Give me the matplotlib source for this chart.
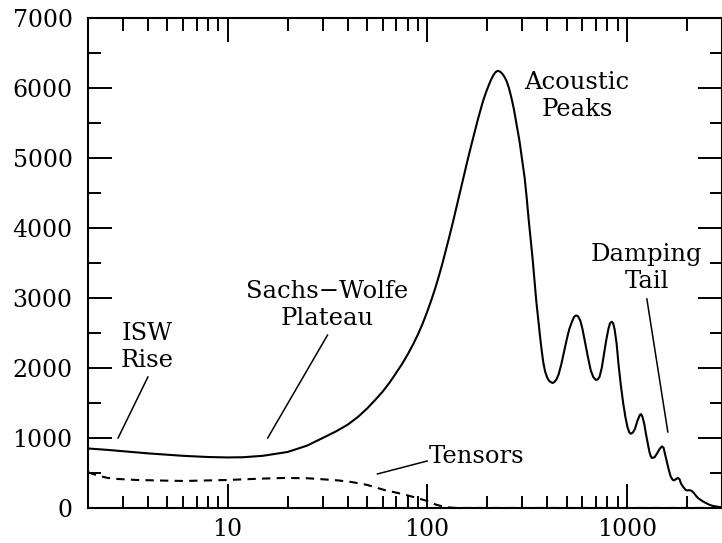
import numpy as np
import matplotlib
matplotlib.use("Agg")
from matplotlib import pyplot as plt
from matplotlib.ticker import LogLocator, MultipleLocator, NullFormatter

# CMB temperature power spectrum
ell = [2, 2.5, 3, 4, 5, 6, 8, 10, 12, 15, 20, 25, 30, 35, 40, 45, 50, 55, 60,
       65, 70, 75, 80, 85, 90, 95, 100, 105, 110, 115, 120, 125, 130, 135, 140,
       145, 150, 155, 160, 170, 180, 190, 198, 205, 210, 215, 220, 225, 230,
       235, 240, 245, 250, 257, 265, 272, 280, 290, 300, 308, 315, 322, 330,
       338, 345, 352, 360, 368, 375, 382, 390, 400, 410, 425, 435, 445, 455,
       470, 485, 500, 515, 530, 545, 557, 570, 585, 600, 620, 640, 660, 680,
       700, 715, 730, 750, 770, 790, 810, 825, 843, 855, 870, 890, 910, 935,
       960, 985, 1010, 1030, 1050, 1075, 1100, 1130, 1164, 1180, 1200, 1225,
       1250, 1275, 1300, 1320, 1337, 1380, 1420, 1460, 1500, 1530, 1560, 1590,
       1620, 1660, 1702, 1730, 1760, 1803, 1840, 1870, 1920, 1977, 2010, 2050,
       2080, 2118, 2170, 2230, 2280, 2350, 2420, 2500, 2600, 2700, 2850, 3000]
power = [850, 830, 810, 780, 760, 745, 728, 722, 725, 745, 800, 890, 1000,
         1095, 1190, 1300, 1420, 1545, 1665, 1795, 1930, 2060, 2195, 2335,
         2480, 2635, 2800, 2970, 3145, 3330, 3520, 3715, 3905, 4095, 4285,
         4470, 4650, 4820, 4985, 5285, 5560, 5800, 5950, 6060, 6130, 6185,
         6225, 6243, 6240, 6220, 6190, 6150, 6100, 6000, 5850, 5700, 5500,
         5250, 4950, 4720, 4450, 4150, 3850, 3550, 3250, 2970, 2700, 2450,
         2250, 2080, 1950, 1860, 1810, 1785, 1800, 1840, 1900, 2050, 2230,
         2400, 2550, 2650, 2730, 2750, 2740, 2680, 2560, 2350, 2150, 1970,
         1870, 1830, 1835, 1870, 2000, 2200, 2400, 2560, 2640, 2660, 2640,
         2550, 2350, 2050, 1750, 1500, 1300, 1150, 1080, 1060, 1080, 1130,
         1240, 1330, 1340, 1300, 1200, 1050, 920, 800, 740, 714, 725, 780,
         840, 880, 860, 760, 660, 560, 450, 400, 395, 410, 430, 410, 350, 300,
         257, 250, 255, 252, 243, 215, 170, 140, 114, 90, 70, 45, 30, 18, 10]

ell_t = [2, 2.2, 2.5, 2.83, 3.5, 5, 6.1, 10, 15, 19.3, 25, 30, 36, 41.8, 50,
         61, 75, 89, 100, 112, 125, 140, 3000]
tensor = [510, 470, 430, 414, 400, 390, 386, 400, 420, 429, 425, 410, 393,
          371, 330, 257, 200, 143, 100, 43, 10, 0, 0]

xticks = [10, 100, 1000]
xlabels = ["10", "100", "1000"]

plt.rcParams['font.family'] = ['DejaVu Serif']

fig = plt.figure(figsize=(7.22, 5.43), dpi=100)
ax = fig.add_axes([0.1219, 0.0645, 0.878, 0.9024])

ax.plot(ell, power, color='black', lw=1.5)
ax.plot(ell_t, tensor, color='black', lw=1.5, dashes=(4, 3))

ax.set_xscale('log')
ax.set_xlim(2, 3000)
ax.set_ylim(0, 7000)
ax.set_xticks(xticks)
ax.set_xticklabels(xlabels)
ax.xaxis.set_minor_locator(LogLocator(base=10, subs=np.arange(2, 10)))
ax.xaxis.set_minor_formatter(NullFormatter())
ax.yaxis.set_major_locator(MultipleLocator(1000))
ax.yaxis.set_minor_locator(MultipleLocator(500))

ax.tick_params(which='both', direction='in', top=True, right=True,
               labelsize=17, width=1.4, colors='black')
ax.tick_params(which='major', length=17)
ax.tick_params(which='minor', length=9)
ax.tick_params(axis='y', which='major', pad=11)
ax.tick_params(axis='x', which='major', pad=7)
for s in ax.spines.values():
    s.set_linewidth(1.5)

# annotations
fs = 17.5
ax.text(3.94, 2300, "ISW\nRise", ha='center', va='center', fontsize=fs)
ax.plot([2.83, 3.99], [1000, 1871], color='black', lw=1.1)

ax.text(31.7, 2900, "Sachs\u2212Wolfe\nPlateau", ha='center', va='center',
        fontsize=fs)
ax.plot([15.9, 31.7], [1000, 2470], color='black', lw=1.1)

ax.text(564, 5886, "Acoustic\nPeaks", ha='center', va='center', fontsize=fs)

ax.text(1262, 3430, "Damping\nTail", ha='center', va='center', fontsize=fs)
ax.plot([1262, 1607], [2986, 1086], color='black', lw=1.1)

ax.text(102, 729, "Tensors", ha='left', va='center', fontsize=fs)
ax.plot([56.4, 100], [486, 671], color='black', lw=1.1)

fig.savefig("out.png", dpi=100)
